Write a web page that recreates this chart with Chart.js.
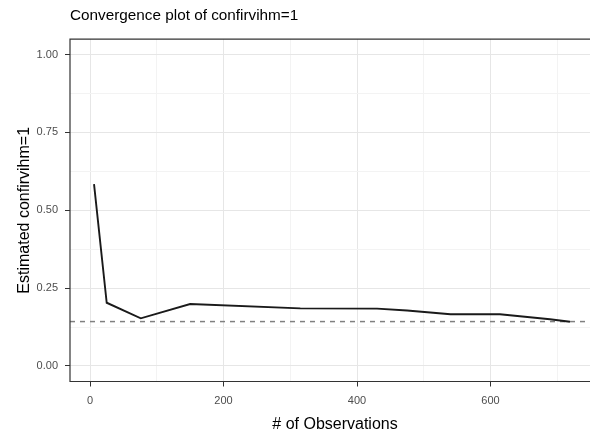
<!DOCTYPE html>
<html>
<head>
<meta charset="utf-8">
<script src="https://cdn.jsdelivr.net/npm/chart.js@4/dist/chart.umd.min.js"></script>
<style>
  html, body { margin: 0; padding: 0; background: #fff; overflow: hidden; }
  #wrap { width: 590px; height: 439px; overflow: hidden; }
</style>
</head>
<body>
<div id="wrap"><canvas id="convChart" width="600" height="439"></canvas></div>
<script>
const obsCounts = [6, 25, 76, 150, 315, 430, 475, 540, 614, 689, 719];
const estimates = [0.584, 0.203, 0.153, 0.199, 0.185, 0.184, 0.178, 0.166, 0.166, 0.150, 0.142];
const refValue = 0.1425;
const xTicks = [0, 100, 200, 300, 400, 500, 600, 700];
const yTicks = [0, 0.125, 0.25, 0.375, 0.5, 0.625, 0.75, 0.875, 1];

const FONT = "'Liberation Sans', Arial, sans-serif";

const isMajorX = v => v % 200 === 0;
const isMajorY = v => Math.abs(v / 0.25 - Math.round(v / 0.25)) < 1e-6;

// panel border (right side falls outside the picture) + dashed reference line
const panelPlugin = {
  id: "panel",
  beforeDatasetsDraw(chart) {
    const { ctx, chartArea: a, scales } = chart;
    const y = scales.y.getPixelForValue(refValue);
    ctx.save();
    ctx.strokeStyle = "#808080";
    ctx.lineWidth = 1.5;
    ctx.setLineDash([5, 5]);
    ctx.beginPath();
    ctx.moveTo(a.left, y);
    ctx.lineTo(a.right, y);
    ctx.stroke();
    ctx.restore();
  },
  afterDraw(chart) {
    const { ctx, chartArea: a } = chart;
    ctx.save();
    ctx.strokeStyle = "#333333";
    ctx.lineWidth = 1.2;
    ctx.beginPath();
    ctx.moveTo(a.right + 2, a.top);
    ctx.lineTo(a.left, a.top);
    ctx.lineTo(a.left, a.bottom);
    ctx.lineTo(a.right + 2, a.bottom);
    ctx.stroke();
    ctx.restore();
  }
};

new Chart(document.getElementById("convChart"), {
  type: "line",
  data: {
    datasets: [{
      data: obsCounts.map((x, i) => ({ x, y: estimates[i] })),
      borderColor: "#1a1a1a",
      borderWidth: 1.9,
      pointRadius: 0,
      tension: 0,
      fill: false
    }]
  },
  options: {
    responsive: false,
    devicePixelRatio: 1,
    animation: false,
    layout: { padding: 0 },
    plugins: {
      legend: { display: false },
      tooltip: { enabled: false },
      title: {
        display: true,
        text: "Convergence plot of confirvihm=1",
        align: "start",
        fullSize: false,
        color: "#000",
        font: { family: FONT, size: 15.3, weight: "normal", lineHeight: 1.2 },
        padding: { top: 6.5, bottom: 14.2 }
      }
    },
    scales: {
      x: {
        type: "linear",
        min: -30,
        max: 764,
        afterBuildTicks: s => { s.ticks = xTicks.map(v => ({ value: v })); },
        afterFit: s => { s.height = 57.5; },
        border: { display: false },
        grid: {
          color: c => isMajorX(c.tick.value) ? "#e6e6e6" : "#f3f3f3",
          lineWidth: 1,
          tickColor: c => isMajorX(c.tick.value) ? "#333333" : "rgba(0,0,0,0)",
          tickLength: 5
        },
        ticks: {
          autoSkip: false,
          maxRotation: 0,
          padding: 8,
          color: "#4d4d4d",
          font: { family: FONT, size: 11 },
          callback: v => isMajorX(v) ? String(v) : ""
        },
        title: {
          display: true,
          text: "# of Observations",
          color: "#000",
          font: { family: FONT, size: 16, lineHeight: 1.2 },
          padding: { top: 0, bottom: 4.4 }
        }
      },
      y: {
        min: -0.05,
        max: 1.05,
        afterBuildTicks: s => { s.ticks = yTicks.map(v => ({ value: v })); },
        afterFit: s => { s.width = 70; },
        border: { display: false },
        grid: {
          color: c => isMajorY(c.tick.value) ? "#e6e6e6" : "#f3f3f3",
          lineWidth: 1,
          tickColor: c => isMajorY(c.tick.value) ? "#333333" : "rgba(0,0,0,0)",
          tickLength: 5
        },
        ticks: {
          autoSkip: false,
          padding: 7,
          color: "#4d4d4d",
          font: { family: FONT, size: 11 },
          callback: v => isMajorY(v) ? v.toFixed(2) : ""
        },
        title: {
          display: true,
          text: "Estimated confirvihm=1",
          color: "#000",
          font: { family: FONT, size: 16, lineHeight: 1.2 },
          padding: { top: 15.4, bottom: 0 }
        }
      }
    }
  },
  plugins: [panelPlugin]
});
</script>
</body>
</html>
